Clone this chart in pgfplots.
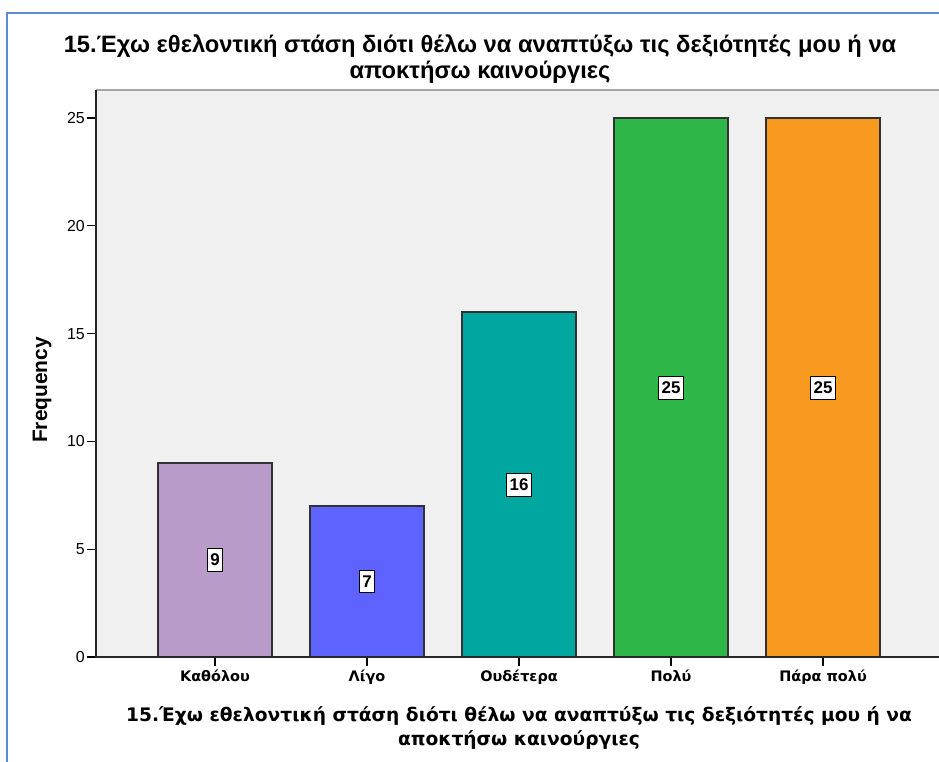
\documentclass[border=0pt]{standalone}
\usepackage{fontspec}
\setmainfont{Liberation Sans}
\newfontfamily\dejavu{DejaVu Sans}
\usepackage{pgfplots}
\pgfplotsset{compat=1.18}
\definecolor{c1}{RGB}{184,155,201}
\definecolor{c2}{RGB}{94,98,255}
\definecolor{c3}{RGB}{0,166,160}
\definecolor{c4}{RGB}{46,182,72}
\definecolor{c5}{RGB}{248,154,32}
\definecolor{bgcol}{RGB}{240,240,240}
\definecolor{framecol}{RGB}{91,139,214}
\definecolor{barline}{RGB}{50,50,50}
\begin{document}
\begin{tikzpicture}[x=1bp,y=1bp]
\useasboundingbox (0,0) rectangle (939,762);
\fill[white] (0,0) rectangle (939,762);
\draw[framecol, line width=2bp] (7,0) -- (7,749) -- (939,749);
\node[anchor=base, font=\bfseries\fontsize{23.8}{23.8}\selectfont, inner sep=0] at (480,709) {15.Έχω εθελοντική στάση διότι θέλω να αναπτύξω τις δεξιότητές μου ή να};
\node[anchor=base, font=\bfseries\fontsize{23.8}{23.8}\selectfont, inner sep=0] at (480,683) {αποκτήσω καινούργιες};
\node[anchor=base, font=\dejavu\bfseries\fontsize{18.7}{18.7}\selectfont, inner sep=0] at (519,40) {15.Έχω εθελοντική στάση διότι θέλω να αναπτύξω τις δεξιότητές μου ή να};
\node[anchor=base, font=\dejavu\bfseries\fontsize{18.7}{18.7}\selectfont, inner sep=0] at (519,16) {αποκτήσω καινούργιες};
\node[rotate=90, font=\bfseries\fontsize{21}{21}\selectfont, inner sep=0] at (42,372) {Frequency};
\begin{axis}[
  at={(96bp,105bp)}, anchor=south west,
  scale only axis, width=843bp, height=567bp,
  xmin=-0.783, xmax=4.763, ymin=0, ymax=26.3,
  axis background/.style={fill=bgcol},
  axis line style={draw=none},
  clip=false,
  xtick={0,1,2,3,4},
  xticklabels={Καθόλου,Λίγο,Ουδέτερα,Πολύ,Πάρα πολύ},
  ytick={0,5,10,15,20,25},
  xtick pos=lower, ytick pos=lower,
  tick align=outside, major tick length=9bp,
  tick style={black, line width=1.2bp},
  /pgf/number format/assume math mode=true,
  yticklabel style={font=\fontsize{16}{16}\selectfont, inner sep=2bp},
  xticklabel style={font=\dejavu\bfseries\fontsize{14.5}{14.5}\selectfont},
  ybar, bar width=114bp,
  every axis plot/.append style={bar shift=0pt, draw=barline, line width=1.2bp},
  nodes near coords,
  visualization depends on={y \as \rawy},
  nodes near coords style={anchor=center, shift={(axis direction cs:0,-\rawy/2)},
     fill=white, draw=black, line width=0.9bp, inner xsep=3bp, inner ysep=5.5bp, text=black,
     font=\bfseries\fontsize{17}{17}\selectfont},
]
\addplot[fill=c1] coordinates {(0,9)};
\addplot[fill=c2] coordinates {(1,7)};
\addplot[fill=c3] coordinates {(2,16)};
\addplot[fill=c4] coordinates {(3,25)};
\addplot[fill=c5] coordinates {(4,25)};
\draw[gray!70, line width=1.5bp] (rel axis cs:0,1) -- (rel axis cs:1,1);
\draw[black!85, line width=1.5bp] (rel axis cs:0,1) -- (rel axis cs:0,0) -- (rel axis cs:1,0);
\end{axis}
\end{tikzpicture}
\end{document}
